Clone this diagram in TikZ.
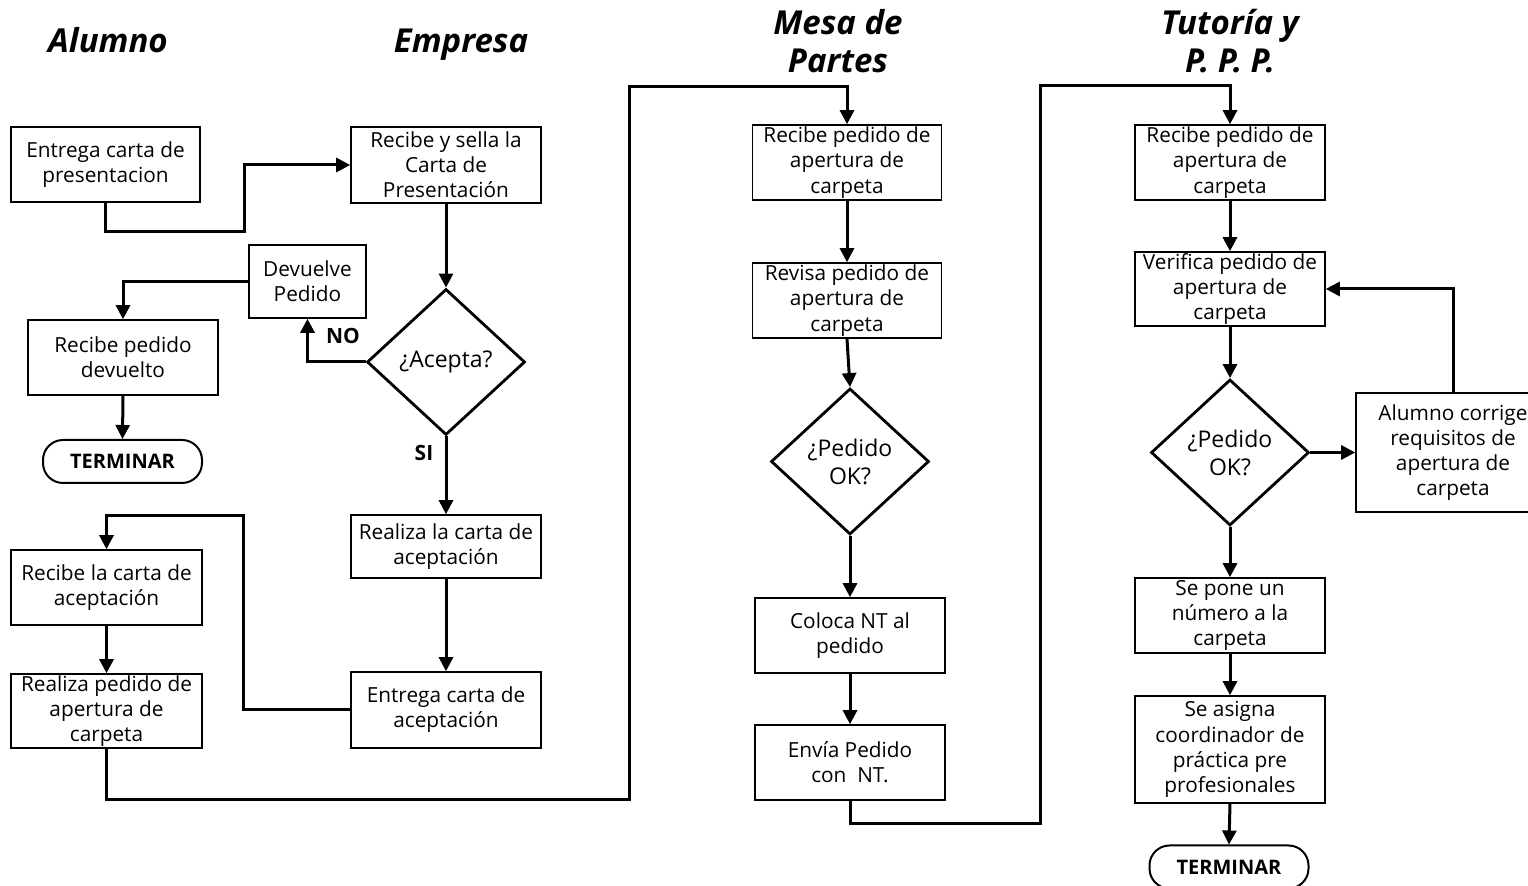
\documentclass[tikz,border=0pt]{standalone}
\usepackage{fontspec}
\setmainfont{Open Sans}
\usetikzlibrary{arrows.meta,shapes.geometric}

\tikzset{
	box/.style={draw, line width=0.8pt, rectangle, align=center, inner sep=0.5pt,
		minimum width=95pt, minimum height=37.5pt, font=\fontsize{10.4}{12.6}\selectfont},
	decision/.style={draw, line width=1.4pt, diamond, align=center, inner sep=0pt,
		minimum width=79pt, minimum height=73pt, font=\fontsize{11.5}{14}\selectfont},
	ending/.style={draw, line width=1pt, rectangle, rounded corners=10pt,
		minimum width=79.5pt, minimum height=21.5pt, font=\fontsize{10}{11}\selectfont\bfseries},
	conn/.style={line width=1.5pt, -{Triangle[width=7pt,length=7pt]}},
	lane/.style={align=center, font=\fontsize{16.5}{19}\selectfont\bfseries\itshape},
	tag/.style={font=\fontsize{10.5}{12}\selectfont\bfseries}
}

\begin{document}
\begin{tikzpicture}[x=0.5pt, y=-0.5pt]
			%%%%% START %%%%%
			\useasboundingbox (0,0) rectangle (1528,886);
			
			\node[lane, anchor=base] (hAlumno) at (108,53) {Alumno};
			\node[lane, anchor=base] (hEmpresa) at (461,53) {Empresa};
			\node[lane] (hMesa) at (838,41) {Mesa de\\Partes};
			\node[lane] (hTutoria) at (1230,41) {Tutoría y\\P. P. P.};
			
			%%%%% ALUMNO / EMPRESA %%%%%
			\node[box, minimum width=94.5pt] (entrega) at (105.5,164.5) {Entrega carta de\\presentacion};
			\node[box, minimum height=38pt] (sella) at (446,165) {Recibe y sella la\\Carta de\\Presentación};
			\node[decision] (acepta) at (446,362) {¿Acepta?};
			\node[box, minimum width=58.5pt, minimum height=36.5pt] (devuelve) at (307.5,281.5) {Devuelve\\Pedido};
			\node[box] (recdev) at (123,357.5) {Recibe pedido\\devuelto};
			\node[ending] (fin1) at (122.5,461.5) {TERMINAR};
			\node[box, minimum height=31.5pt] (realiza) at (446,546.5) {Realiza la carta de\\aceptación};
			\node[box, minimum height=38pt] (entacep) at (446,710) {Entrega carta de\\aceptación};
			\node[box, minimum width=95.5pt] (recacep) at (106.5,587.5) {Recibe la carta de\\aceptación};
			\node[box, minimum width=95.5pt, minimum height=37pt] (pedido) at (106.5,711) {Realiza pedido de\\apertura de\\carpeta};
			
			\node[tag] (no) at (343,336) {NO};
			\node[tag] (si) at (424,453) {SI};
			
			\draw[conn] (entrega.south) |- (244,232) |- (sella.west);
			\draw[conn] (sella.south) -- (acepta.north);
			\draw[conn] (acepta.west) -| (devuelve.south);
			\draw[conn] (devuelve.west) -| (recdev.north);
			\draw[conn] (recdev.south) -- (fin1.north);
			\draw[conn] (acepta.south) -- (realiza.north);
			\draw[conn] (realiza.south) -- (entacep.north);
			\draw[conn] (entacep.west) -| (243,516) -| (recacep.north);
			\draw[conn] (recacep.south) -- (pedido.north);
			
			%%%%% MESA DE PARTES %%%%%
			\node[box, minimum width=94.5pt] (mrecibe) at (847,162.5) {Recibe pedido de\\apertura de\\carpeta};
			\node[box, minimum width=94.5pt] (mrevisa) at (847,300.5) {Revisa pedido de\\apertura de\\carpeta};
			\node[decision] (mok) at (850,461.5) {¿Pedido\\OK?};
			\node[box] (coloca) at (850,635.5) {Coloca NT al\\pedido};
			\node[box] (envia) at (850,762.5) {Envía Pedido\\con\ \ NT.};
			
			\draw[conn] (pedido.south) |- (629,800) -- (629,87) -| (mrecibe.north);
			\draw[conn] (mrecibe.south) -- (mrevisa.north);
			\draw[conn] (mrevisa.south) -- (mok.north);
			\draw[conn] (mok.south) -- (coloca.north);
			\draw[conn] (coloca.south) -- (envia.north);
			
			%%%%% TUTORIA %%%%%
			\node[box] (trecibe) at (1230,162.5) {Recibe pedido de\\apertura de\\carpeta};
			\node[box, minimum height=37pt] (tverifica) at (1230,289) {Verifica pedido de\\apertura de\\carpeta};
			\node[decision] (tok) at (1230,452.5) {¿Pedido\\OK?};
			\node[box, minimum width=97pt, minimum height=59.5pt] (corrige) at (1453,452.5) {Alumno corrige\\requisitos de\\apertura de\\carpeta};
			\node[box] (numero) at (1230,615.5) {Se pone un\\número a la\\carpeta};
			\node[box, minimum height=53.5pt] (asigna) at (1230,749.5) {Se asigna\\coordinador de\\práctica pre\\profesionales};
			\node[ending] (fin2) at (1229,867) {TERMINAR};
			
			\draw[conn] (envia.south) |- (1040,824) -- (1040,86) -| (trecibe.north);
			\draw[conn] (trecibe.south) -- (tverifica.north);
			\draw[conn] (tverifica.south) -- (tok.north);
			\draw[conn] (tok.east) -- (corrige.west);
			\draw[conn] (corrige.north) |- (tverifica.east);
			\draw[conn] (tok.south) -- (numero.north);
			\draw[conn] (numero.south) -- (asigna.north);
			\draw[conn] (asigna.south) -- (fin2.north);
			
			%%%%% END %%%%%
\end{tikzpicture}
\end{document}
